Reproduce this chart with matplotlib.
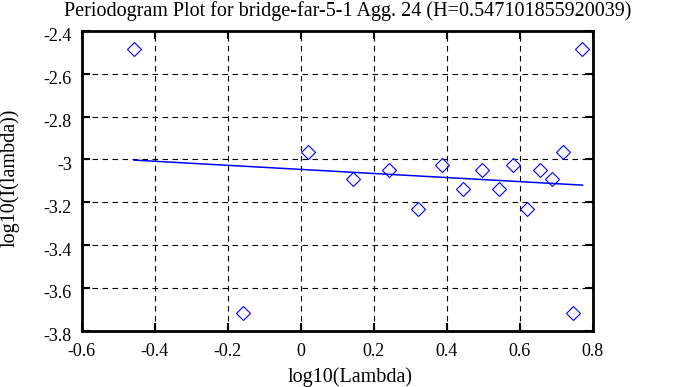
import matplotlib
matplotlib.use("Agg")
import matplotlib.pyplot as plt
from matplotlib.transforms import ScaledTranslation

log_lambda = [-0.457, -0.157, 0.020, 0.144, 0.241, 0.320, 0.386, 0.445, 0.497,
              0.542, 0.583, 0.621, 0.656, 0.689, 0.718, 0.745, 0.772]
log_I = [-2.485, -3.715, -2.967, -3.092, -3.050, -3.232, -3.025, -3.139, -3.050,
         -3.139, -3.025, -3.232, -3.050, -3.092, -2.967, -3.715, -2.485]
fit_x = [-0.457, 0.772]
fit_y = [-3.003, -3.120]
xticks = [-0.6, -0.4, -0.2, 0, 0.2, 0.4, 0.6, 0.8]
yticks = [-3.8, -3.6, -3.4, -3.2, -3.0, -2.8, -2.6, -2.4]
xtick_labels = ["-0.6", "-0.4", "-0.2", "0", "0.2", "0.4", "0.6", "0.8"]
ytick_labels = ["-3.8", "-3.6", "-3.4", "-3.2", "-3", "-2.8", "-2.6", "-2.4"]

plt.rcParams['font.family'] = ['Liberation Serif', 'DejaVu Serif']

fig = plt.figure(figsize=(6.78, 3.87), dpi=100)
ax = fig.add_axes([81.7/678, 1-330.7/387, (592.7-81.7)/678, (330.7-31)/387])

ax.plot(fit_x, fit_y, color='#0000ff', lw=1.1, zorder=3)
ax.plot(log_lambda, log_I, linestyle='none', marker='D', markersize=7.5,
        markerfacecolor='none', markeredgecolor='#0000ff', markeredgewidth=0.8, zorder=4)

ax.set_xlim(-0.6, 0.8)
ax.set_ylim(-3.8, -2.4)
ax.set_xticks(xticks)
ax.set_xticklabels(xtick_labels)
ax.set_yticks(yticks)
ax.set_yticklabels(ytick_labels)
ax.grid(True, color='black', linestyle=(0, (5, 4)), linewidth=0.8)
ax.tick_params(direction='in', length=6, width=1.5, top=True, right=True,
               labelsize=13)
ax.tick_params(axis='x', pad=9)
ax.tick_params(axis='y', pad=7)
for s in ax.spines.values():
    s.set_linewidth(2)

off = ScaledTranslation(0, -4/100, fig.dpi_scale_trans)
for lbl in ax.get_yticklabels():
    lbl.set_transform(lbl.get_transform() + off)

fig.text(0.5*(62+633)/678, 1-11/387,
         "Periodogram Plot for bridge-far-5-1 Agg. 24 (H=0.547101855920039)",
         fontsize=14.5, ha='center', va='center')
fig.text(350/678, 1-377/387, "log10(Lambda)", fontsize=14.5, ha='center', va='center')
fig.text(10/678, 1-178/387, "log10(I(lambda))", fontsize=14.5, ha='center',
         va='center', rotation=90)

fig.savefig("out.png", dpi=100)
